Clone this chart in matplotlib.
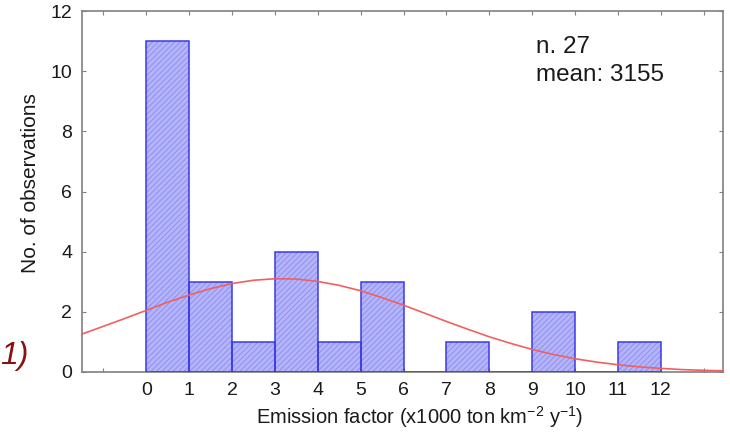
import matplotlib
matplotlib.use("Agg")
import matplotlib.pyplot as plt
import numpy as np

plt.rcParams['font.family'] = ['Liberation Sans', 'DejaVu Sans']
plt.rcParams['hatch.linewidth'] = 0.6

# Histogram data
bin_edges = [0, 1, 2, 3, 4, 5, 6, 7, 8, 9, 10, 11, 12]
counts = [11, 3, 1, 4, 1, 3, 0, 1, 0, 2, 0, 1]

# Fitted normal curve
curve_x = [-1.5, -1.0, -0.5, 0.0, 0.5, 1.0, 1.5, 2.0, 2.5, 3.0, 3.5, 4.0, 4.5,
           5.0, 5.5, 6.0, 6.5, 7.0, 7.5, 8.0, 8.5, 9.0, 9.5, 10.0, 10.5, 11.0,
           11.5, 12.0, 12.5, 13.0, 13.5]
curve_y = [1.26, 1.52, 1.78, 2.05, 2.32, 2.56, 2.77, 2.94, 3.05, 3.10, 3.09, 3.01,
           2.88, 2.70, 2.47, 2.22, 1.95, 1.68, 1.42, 1.17, 0.95, 0.75, 0.58, 0.44,
           0.33, 0.24, 0.17, 0.12, 0.08, 0.055, 0.04]

xtick_labels = [str(i) for i in range(0, 13)]

fig = plt.figure(figsize=(7.3, 4.32), dpi=100)
ax = fig.add_axes([82/730, 60/432, (723-82)/730, (372-11)/432])

lefts = bin_edges[:-1]
widths = [bin_edges[i+1] - bin_edges[i] for i in range(len(counts))]
ax.bar(lefts, counts, width=widths, align='edge', color='#b4b4fa',
       edgecolor='#8a8af0', hatch='//////', linewidth=0, zorder=2)
ax.bar(lefts, counts, width=widths, align='edge', fill=False,
       edgecolor='#3a3ae6', linewidth=1.1, zorder=3)

ax.plot(curve_x, curve_y, color='#f06060', linewidth=1.2, zorder=4)

ax.set_xlim(-1.5, 13.45)
ax.set_ylim(0, 12)
ax.set_xticks(range(-1, 14))
ax.set_xticklabels([''] + xtick_labels + [''])
ax.set_yticks(range(0, 13, 2))
ax.tick_params(direction='in', length=3, color='#808080', labelsize=14,
               top=True, right=True, pad=7, labelcolor='#1a1a1a')
for s in ax.spines.values():
    s.set_color('#808080')
    s.set_linewidth(1.2)

ax.set_ylabel('No. of observations', fontsize=15, color='#1a1a1a')
ax.set_xlabel('Emission factor (x1000 ton km$^{\\mathregular{-2}}$ y$^{\\mathregular{-1}}$)',
              fontsize=14.5, color='#1a1a1a')
ax.xaxis.set_label_coords(0.527, -0.088)
ax.yaxis.set_label_coords(-0.066, 0.524)

ax.text(0.708, 0.93, 'n. 27\nmean: 3155', transform=ax.transAxes,
        fontsize=17.5, color='#1a1a1a', va='top', ha='left', linespacing=1.35)

fig.text(0.0, (432-356)/432, '1)', fontsize=23, color='#8b1010',
         style='italic', va='center', ha='left')

fig.savefig('out.png', dpi=100)
